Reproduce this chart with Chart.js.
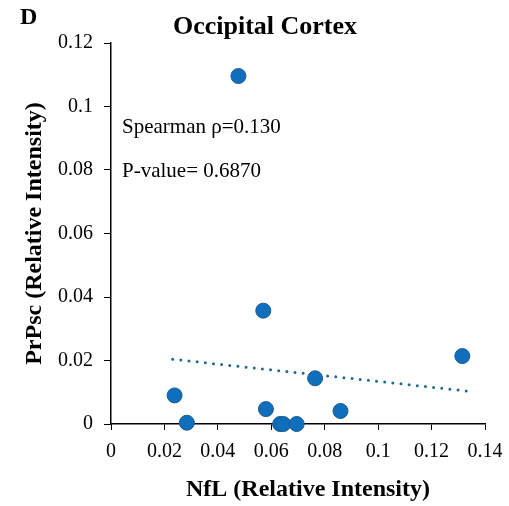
<!DOCTYPE html>
<html>
<head>
<meta charset="utf-8">
<script src="https://cdn.jsdelivr.net/npm/chart.js@4/dist/chart.umd.min.js"></script>
<style>
  html, body { margin: 0; padding: 0; background: #fff; }
  #wrap { width: 509px; height: 506px; }
</style>
</head>
<body>
<div id="wrap"><canvas id="chart" width="509" height="506"></canvas></div>
<script>
// NfL vs PrPsc, occipital cortex
const nflValues = [0.0477, 0.0570, 0.0238, 0.0284, 0.0580, 0.0633, 0.0645, 0.0695, 0.0764, 0.0859, 0.1315];
const prpscValues = [0.1096, 0.0357, 0.0090, 0.0004, 0.0047, 0.0000, 0.0000, 0.0000, 0.0144, 0.0041, 0.0214];

// trendline end points
const trendX = [0.0231, 0.1343];
const trendY = [0.0204, 0.0103];

const xTicks = [0, 0.02, 0.04, 0.06, 0.08, 0.1, 0.12, 0.14];
const yTicks = [0, 0.02, 0.04, 0.06, 0.08, 0.1, 0.12];

const panelLetter = 'D';
const chartTitle = 'Occipital Cortex';
const xTitle = 'NfL (Relative Intensity)';
const yTitle = 'PrPsc (Relative Intensity)';
const statLines = ['Spearman ρ=0.130', 'P-value= 0.6870'];

const serif = "'Liberation Serif', 'Times New Roman', serif";

const points = nflValues.map((x, i) => ({ x, y: prpscValues[i] }));
const trend = trendX.map((x, i) => ({ x, y: trendY[i] }));

// title, panel letter, x title and stats text
const textPlugin = {
  id: 'texts',
  afterDraw(chart) {
    const ctx = chart.ctx;
    ctx.save();
    ctx.fillStyle = '#000';
    ctx.textBaseline = 'middle';
    ctx.textAlign = 'left';
    ctx.font = 'bold 24px ' + serif;
    ctx.fillText(panelLetter, 20, 18);
    ctx.textAlign = 'center';
    ctx.font = 'bold 26px ' + serif;
    ctx.fillText(chartTitle, 265, 27);
    ctx.font = 'bold 24px ' + serif;
    ctx.fillText(xTitle, 308, 490);
    ctx.textAlign = 'left';
    ctx.font = '21px ' + serif;
    ctx.fillText(statLines[0], 122, 127);
    ctx.fillText(statLines[1], 122, 171);
    ctx.restore();
  }
};

new Chart(document.getElementById('chart'), {
  type: 'scatter',
  data: {
    datasets: [
      {
        data: points,
        backgroundColor: '#0F6FBD',
        borderColor: '#1D5A8A',
        borderWidth: 1,
        pointRadius: 7.5,
        pointHoverRadius: 7.5,
        clip: false,
        order: 1,
      },
      {
        type: 'line',
        data: trend,
        borderColor: '#1F6A8C',
        borderWidth: 3,
        borderDash: [0, 8.2],
        borderCapStyle: 'round',
        pointRadius: 0,
        fill: false,
        order: 2,
      },
    ],
  },
  options: {
    responsive: false,
    animation: false,
    layout: { padding: { top: 43, right: 24, bottom: 0, left: 0 } },
    plugins: {
      legend: { display: false },
      tooltip: { enabled: false },
      title: { display: false },
    },
    scales: {
      x: {
        type: 'linear',
        min: 0,
        max: 0.14,
        afterBuildTicks: (s) => { s.ticks = xTicks.map((v) => ({ value: v })); },
        afterFit: (s) => { s.height = 82; s.paddingLeft = 0; s.paddingRight = 0; },
        ticks: {
          padding: 10,
          color: '#000',
          font: { family: serif, size: 20 },
          maxRotation: 0,
          callback: (v) => String(+v.toFixed(2)),
        },
        grid: { drawOnChartArea: false, drawTicks: true, tickLength: 6, color: '#000', lineWidth: 1 },
        border: { color: '#000', width: 1.5 },
      },
      y: {
        type: 'linear',
        min: 0,
        max: 0.12,
        afterBuildTicks: (s) => { s.ticks = yTicks.map((v) => ({ value: v })); },
        afterFit: (s) => { s.width = 111; s.paddingTop = 0; s.paddingBottom = 0; },
        ticks: {
          padding: 11,
          color: '#000',
          font: { family: serif, size: 20 },
          callback: (v) => String(+v.toFixed(2)),
        },
        grid: { drawOnChartArea: false, drawTicks: true, tickLength: 7, color: '#000', lineWidth: 1 },
        border: { color: '#000', width: 1.5 },
        title: {
          display: true,
          text: yTitle,
          color: '#000',
          font: { family: serif, size: 24, weight: 'bold' },
          padding: { top: 20, bottom: 0 },
        },
      },
    },
  },
  plugins: [textPlugin],
});
</script>
</body>
</html>
